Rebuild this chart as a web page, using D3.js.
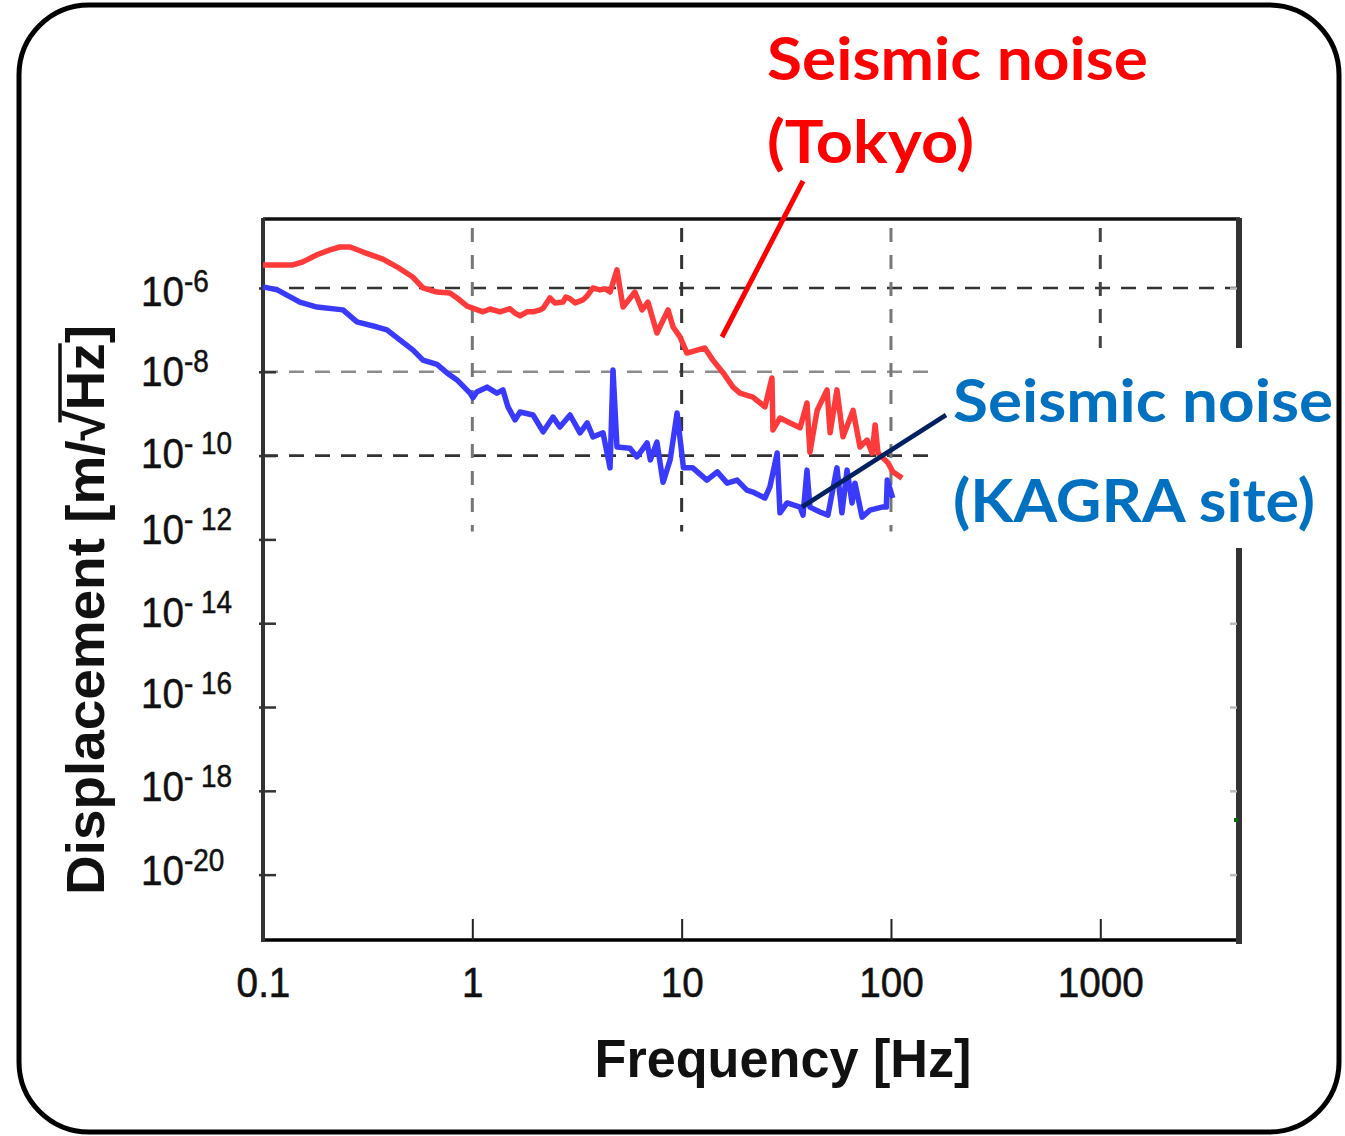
<!DOCTYPE html>
<html>
<head>
<meta charset="utf-8">
<script src="https://cdn.jsdelivr.net/npm/d3@7"></script>
<style>
  body { margin: 0; background: #fff; }
  svg { display: block; }
</style>
</head>
<body>
<svg id="chart" width="1345" height="1136"></svg>
<script>
// ---- data ----------------------------------------------------------------
// Displacement spectra [m/sqrt(Hz)] as [frequency Hz, amplitude] pairs
const tokyoNoise = [
  [0.1, 3.55e-6], [0.139, 3.55e-6], [0.155, 4.2e-6], [0.181, 6.2e-6], [0.209, 8.1e-6],
  [0.233, 9.5e-6], [0.261, 9.5e-6], [0.301, 7.2e-6], [0.374, 4.9e-6], [0.436, 3.2e-6],
  [0.521, 1.8e-6], [0.581, 1.0e-6], [0.678, 8.0e-7], [0.782, 7.6e-7], [0.845, 5.8e-7],
  [0.944, 3.7e-7], [1.125, 2.7e-7], [1.215, 3.15e-7], [1.356, 2.7e-7], [1.514, 3.2e-7],
  [1.60, 2.5e-7], [1.69, 2.15e-7], [1.825, 2.7e-7], [1.95, 2.7e-7], [2.11, 3.0e-7],
  [2.18, 3.3e-7], [2.35, 5.8e-7], [2.48, 4.4e-7], [2.71, 4.6e-7], [2.80, 6.1e-7],
  [2.93, 5.5e-7], [3.10, 4.4e-7], [3.38, 5.2e-7], [3.53, 6.4e-7], [3.77, 1.0e-6],
  [4.07, 9.0e-7], [4.31, 9.5e-7], [4.55, 8.0e-7], [4.91, 2.7e-6], [5.25, 3.5e-7],
  [5.98, 8.0e-7], [6.47, 3.0e-7], [6.90, 4.6e-7], [7.62, 8.4e-8], [8.61, 3.0e-7],
  [9.10, 1.17e-7], [9.82, 6.8e-8], [10.6, 2.8e-8], [12.9, 3.7e-8], [14.1, 1.9e-8],
  [15.8, 9.4e-9], [17.6, 4.3e-9], [19.0, 3.1e-9], [21.9, 2.5e-9], [25.0, 1.45e-9],
  [27.0, 7.1e-9], [27.3, 4.1e-10], [29.5, 7.9e-10], [33.0, 6.0e-10], [36.8, 4.6e-10],
  [39.7, 1.8e-9], [41.0, 1.2e-10], [44.4, 1.2e-9], [49.5, 3.7e-9], [51.2, 3.5e-10],
  [55.2, 3.7e-9], [59.0, 2.8e-10], [65.9, 1.2e-9], [71.1, 1.6e-10], [76.9, 2.35e-10],
  [81.3, 1.15e-10], [84.0, 5.4e-10], [86.7, 1.15e-10], [96.8, 6.7e-11], [102, 4.1e-11],
  [113, 2.9e-11]
];

const kagraNoise = [
  [0.1, 1.06e-6], [0.117, 9.0e-7], [0.150, 4.6e-7], [0.181, 3.5e-7], [0.241, 3.0e-7],
  [0.281, 1.55e-7], [0.351, 1.17e-7], [0.391, 1.0e-7], [0.452, 5.7e-8], [0.521, 3.3e-8],
  [0.581, 1.9e-8], [0.678, 1.5e-8], [0.757, 9.4e-9], [0.845, 6.4e-9], [0.975, 3.1e-9],
  [1.007, 2.4e-9], [1.05, 3.3e-9], [1.175, 4.3e-9], [1.31, 3.1e-9], [1.40, 3.7e-9],
  [1.48, 1.45e-9], [1.60, 7.1e-10], [1.69, 1.1e-9], [1.95, 9.3e-10], [2.18, 3.7e-10],
  [2.43, 8.3e-10], [2.62, 4.8e-10], [2.93, 9.3e-10], [3.27, 3.5e-10], [3.54, 6.0e-10],
  [3.77, 2.8e-10], [4.21, 3.5e-10], [4.55, 5.1e-11], [4.70, 1.1e-8], [4.91, 1.6e-10],
  [5.66, 1.5e-10], [6.12, 9.3e-11], [6.84, 2.0e-10], [7.09, 7.9e-11], [7.62, 2.1e-10],
  [8.15, 2.3e-11], [8.81, 7.9e-11], [9.51, 1.04e-9], [10.2, 5.1e-11], [11.3, 5.1e-11],
  [13.2, 2.6e-11], [14.8, 4.1e-11], [16.5, 2.2e-11], [18.4, 2.6e-11], [20.5, 1.5e-11],
  [21.9, 1.35e-11], [25.0, 9.7e-12], [26.4, 1.8e-11], [28.6, 1.15e-10], [29.5, 4.3e-12],
  [31.9, 7.4e-12], [36.8, 5.9e-12], [38.0, 3.8e-12], [39.7, 4.5e-11], [41.0, 5.9e-12],
  [45.8, 4.5e-12], [50.0, 3.8e-12], [55.2, 5.1e-11], [58.3, 4.3e-12], [61.7, 4.5e-11],
  [65.2, 7.4e-12], [67.3, 2.2e-11], [72.8, 3.4e-12], [79.4, 5.0e-12], [90.6, 5.9e-12],
  [95.0, 5.9e-12], [96.0, 2.6e-11], [102, 9.7e-12]
];

// axis ticks and labels
const xTickValues = [0.1, 1, 10, 100, 1000];
const xTickLabels = ["0.1", "1", "10", "100", "1000"];
const yTickExponents = [-6, -8, -10, -12, -14, -16, -18, -20];
const yTickSuperscripts = ["-6", "-8", "- 10", "- 12", "- 14", "- 16", "- 18", "-20"];
const gridFrequencies = [1, 10, 100, 1000];
const gridLevels = [1e-6, 1e-8, 1e-10];

const xTitle = "Frequency [Hz]";
const yTitle = "Displacement [m/\u221AHz]";
const tokyoLabel = ["Seismic noise", "(Tokyo)"];
const kagraLabel = ["Seismic noise", "(KAGRA site)"];

// ---- layout --------------------------------------------------------------
const svg = d3.select("#chart");
const plot = { left: 263, right: 1240, top: 218, bottom: 940 };

const x = d3.scaleLog().domain([0.1, 4650]).range([plot.left, plot.right]);
const y = d3.scaleLog().domain([Math.pow(10, -4.33), Math.pow(10, -21.56)])
  .range([plot.top, plot.bottom]);

const tickFont = "'Liberation Sans', Arial, sans-serif";
const labelFont = "Lato, 'Open Sans', sans-serif";

// outer rounded panel
svg.append("rect")
  .attr("x", 19).attr("y", 5).attr("width", 1320).attr("height", 1127)
  .attr("rx", 70).attr("ry", 70)
  .attr("fill", "#fff").attr("stroke", "#000").attr("stroke-width", 5);

// dashed grid
const hGridColor = { "-6": "#333", "-8": "#8c8c8c", "-10": "#333" };
svg.append("g").selectAll("line").data(gridLevels).join("line")
  .attr("x1", plot.left).attr("x2", plot.right)
  .attr("y1", d => y(d)).attr("y2", d => y(d))
  .attr("stroke", d => hGridColor[Math.round(Math.log10(d))])
  .attr("stroke-width", 2.6)
  .attr("stroke-dasharray", "15,11");

const vGridColor = { "0": "#777", "1": "#333", "2": "#777", "3": "#444" };
svg.append("g").selectAll("line").data(gridFrequencies).join("line")
  .attr("x1", d => x(d)).attr("x2", d => x(d))
  .attr("y1", plot.top + 10).attr("y2", y(1e-12) - 8)
  .attr("stroke", d => vGridColor[Math.round(Math.log10(d))])
  .attr("stroke-width", 3)
  .attr("stroke-dasharray", "14,13");

// plot frame
svg.append("line").attr("x1", plot.left).attr("x2", plot.right)
  .attr("y1", plot.top + 1).attr("y2", plot.top + 1)
  .attr("stroke", "#111").attr("stroke-width", 3.5);
svg.append("line").attr("x1", plot.left).attr("x2", plot.right)
  .attr("y1", plot.bottom).attr("y2", plot.bottom)
  .attr("stroke", "#000").attr("stroke-width", 3.5);
svg.append("line").attr("x1", plot.left).attr("x2", plot.left)
  .attr("y1", plot.top).attr("y2", plot.bottom + 2)
  .attr("stroke", "#333").attr("stroke-width", 4);
svg.append("line").attr("x1", plot.right - 1).attr("x2", plot.right - 1)
  .attr("y1", plot.top).attr("y2", plot.bottom + 4)
  .attr("stroke", "#333").attr("stroke-width", 6);

// bottom axis: inward ticks + labels
const xAxis = d3.axisBottom(x)
  .tickValues(xTickValues)
  .tickSize(-21)
  .tickFormat((d, i) => xTickLabels[i]);
const gx = svg.append("g").attr("transform", `translate(0,${plot.bottom})`).call(xAxis);
gx.select(".domain").remove();
gx.selectAll(".tick line").attr("stroke", "#222").attr("stroke-width", 2)
  .filter(d => d === 0.1).remove();
gx.selectAll(".tick text")
  .attr("y", 57).attr("dy", null)
  .attr("font-family", tickFont).attr("font-size", 43).attr("fill", "#111")
  .attr("stroke", "#111").attr("stroke-width", 0.6)
  .attr("transform", "scale(0.9,1)");

// left axis: inward ticks, labels drawn as 10^n
const yTickVals = yTickExponents.map(e => Math.pow(10, e));
const yAxis = d3.axisLeft(y).tickValues(yTickVals).tickSize(-13).tickFormat("");
const gy = svg.append("g").attr("transform", `translate(${plot.left - 4},0)`).call(yAxis);
gy.select(".domain").remove();
gy.selectAll(".tick line").attr("stroke", "#333").attr("stroke-width", 2.5)
  .attr("x1", 0).attr("x2", 17);

// right axis: faint inward ticks
const yAxisR = d3.axisRight(y).tickValues(yTickVals).tickSize(-7).tickFormat("");
const gyr = svg.append("g").attr("transform", `translate(${plot.right - 3},0)`).call(yAxisR);
gyr.select(".domain").remove();
gyr.selectAll(".tick line").attr("stroke", "#bbb").attr("stroke-width", 2.5);
svg.append("rect").attr("x", 1234).attr("y", 818).attr("width", 4).attr("height", 4)
  .attr("fill", "#0a6a0a");

// power-of-ten labels (baseline nudges per row)
const yLabelShift = [18, 14, 12, 5, 4, 1, 10, 10];
const yLabels = svg.append("g").selectAll("g").data(yTickExponents).join("g")
  .attr("transform", (d, i) => `translate(141,${y(Math.pow(10, d)) + yLabelShift[i]}) scale(0.9,1)`);
const yLabelText = yLabels.append("text")
  .attr("font-family", tickFont).attr("fill", "#111")
  .attr("stroke", "#111").attr("stroke-width", 0.5);
yLabelText.append("tspan").attr("font-size", 43).text("10");
yLabelText.append("tspan").attr("font-size", 31).attr("dy", -14)
  .text((d, i) => yTickSuperscripts[i]);

// spectra
const line = d3.line().x(d => x(d[0])).y(d => y(d[1])).curve(d3.curveLinear);
svg.append("path").datum(tokyoNoise).attr("d", line)
  .attr("fill", "none").attr("stroke", "#ff3a3a").attr("stroke-width", 5.5)
  .attr("stroke-linejoin", "round");
svg.append("path").datum(kagraNoise).attr("d", line)
  .attr("fill", "none").attr("stroke", "#3a3aff").attr("stroke-width", 5.5)
  .attr("stroke-linejoin", "round");

// axis titles
svg.append("text")
  .attr("x", 783).attr("y", 1077).attr("text-anchor", "middle")
  .attr("font-family", tickFont).attr("font-weight", "bold").attr("font-size", 53)
  .attr("fill", "#111")
  .attr("textLength", 377).attr("lengthAdjust", "spacingAndGlyphs")
  .text(xTitle);

const yt = svg.append("g").attr("transform", "translate(104,610) rotate(-90)");
const ytText = yt.append("text")
  .attr("x", 0).attr("y", 0).attr("text-anchor", "middle")
  .attr("font-family", tickFont).attr("font-weight", "bold").attr("font-size", 54)
  .attr("fill", "#111")
  .attr("textLength", 570).attr("lengthAdjust", "spacingAndGlyphs")
  .text(yTitle);
{
  const node = ytText.node();
  const iRoot = yTitle.indexOf("\u221A");
  const iEnd = yTitle.indexOf("z");
  const xa = node.getStartPositionOfChar(iRoot).x + 0.6 * (node.getEndPositionOfChar(iRoot).x - node.getStartPositionOfChar(iRoot).x);
  const xb = node.getEndPositionOfChar(iEnd).x;
  yt.append("line").attr("x1", xa).attr("x2", xb).attr("y1", -44).attr("y2", -44)
    .attr("stroke", "#111").attr("stroke-width", 3.5);
}

// white panel behind the KAGRA caption
svg.append("rect").attr("x", 932).attr("y", 348).attr("width", 403).attr("height", 200)
  .attr("fill", "#fff");

// captions with leader lines
svg.append("line").attr("x1", 722).attr("y1", 337).attr("x2", 803).attr("y2", 181)
  .attr("stroke", "#ff0000").attr("stroke-width", 5);
svg.append("line").attr("x1", 802).attr("y1", 507).attr("x2", 946).attr("y2", 415)
  .attr("stroke", "#002060").attr("stroke-width", 4.5);

const captionLen = [[381, 207], [380, 362]];
svg.append("g").selectAll("text").data(tokyoLabel).join("text")
  .attr("x", 767).attr("y", (d, i) => 80 + i * 83)
  .attr("font-family", labelFont).attr("font-weight", 700).attr("font-size", 60)
  .attr("fill", "#ff0000")
  .attr("textLength", (d, i) => captionLen[0][i]).attr("lengthAdjust", "spacingAndGlyphs")
  .text(d => d);
svg.append("g").selectAll("text").data(kagraLabel).join("text")
  .attr("x", 953).attr("y", (d, i) => 422 + i * 100)
  .attr("font-family", labelFont).attr("font-weight", 700).attr("font-size", 60)
  .attr("fill", "#0070c0")
  .attr("textLength", (d, i) => captionLen[1][i]).attr("lengthAdjust", "spacingAndGlyphs")
  .text(d => d);
</script>
</body>
</html>
